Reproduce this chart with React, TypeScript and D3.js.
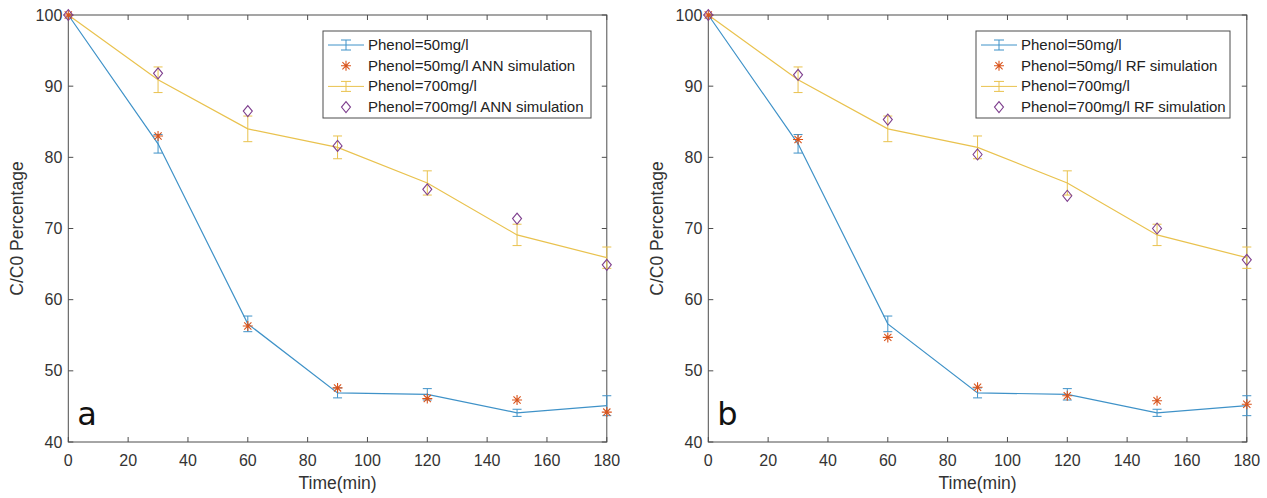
import React from "react";
import * as d3 from "d3";

// time points (min)
const times = [0, 30, 60, 90, 120, 150, 180];

// experimental means and error bar half-widths
const phenol50 = [100, 81.9, 56.6, 46.9, 46.7, 44.1, 45.1];
const phenol50Err = [0, 1.3, 1.1, 0.7, 0.8, 0.5, 1.4];
const phenol700 = [100, 90.9, 84.0, 81.4, 76.4, 69.1, 65.9];
const phenol700Err = [0, 1.8, 1.8, 1.6, 1.7, 1.5, 1.5];

// panel a: ANN simulation
const ann50 = [100, 83.0, 56.3, 47.6, 46.1, 45.9, 44.2];
const ann700 = [100, 91.8, 86.5, 81.6, 75.5, 71.4, 64.9];

// panel b: RF simulation
const rf50 = [100, 82.5, 54.7, 47.7, 46.5, 45.8, 45.3];
const rf700 = [100, 91.6, 85.3, 80.4, 74.6, 70.0, 65.6];

const xTicks = [0, 20, 40, 60, 80, 100, 120, 140, 160, 180];
const yTicks = [40, 50, 60, 70, 80, 90, 100];

const BLUE = "#3f92c8";
const YELLOW = "#e9c24e";
const ORANGE = "#d9541c";
const PURPLE = "#7e3f8e";
const AXIS = "#4d4d4d";
const FONT = "'Liberation Sans', Arial, sans-serif";

const starPath = (r: number) => {
  const d = r * 0.72;
  return `M0,${-r}V${r}M${-r},0H${r}M${-d},${-d}L${d},${d}M${-d},${d}L${d},${-d}`;
};
const diamondPath = (w: number, h: number) => `M0,${-h}L${w},0L0,${h}L${-w},0Z`;

type PanelProps = {
  left: number;
  letter: string;
  model: string;
  sim50: number[];
  sim700: number[];
  legendX: number;
  legendW: number;
};

const Panel = ({ left, letter, model, sim50, sim700, legendX, legendW }: PanelProps) => {
  const x = d3.scaleLinear().domain([0, 180]).range([left, left + 538.5]);
  const y = d3.scaleLinear().domain([40, 100]).range([442, 15]);
  const [x0, x1] = x.range();
  const [yb, yt] = y.range();
  const line = d3
    .line<number>()
    .x((_, i) => x(times[i]))
    .y((d) => y(d));

  const errorBars = (vals: number[], errs: number[], color: string) =>
    vals.map((v, i) =>
      errs[i] > 0 ? (
        <g key={i} stroke={color} strokeWidth={1}>
          <line x1={x(times[i])} x2={x(times[i])} y1={y(v - errs[i])} y2={y(v + errs[i])} />
          <line x1={x(times[i]) - 4.5} x2={x(times[i]) + 4.5} y1={y(v - errs[i])} y2={y(v - errs[i])} />
          <line x1={x(times[i]) - 4.5} x2={x(times[i]) + 4.5} y1={y(v + errs[i])} y2={y(v + errs[i])} />
        </g>
      ) : null
    );

  const legendItems = [
    `Phenol=50mg/l`,
    `Phenol=50mg/l ${model} simulation`,
    `Phenol=700mg/l`,
    `Phenol=700mg/l ${model} simulation`,
  ];
  const ly = 31;
  const rowY = (i: number) => ly + 14 + i * 20.7;
  const iconX = legendX + 23;

  return (
    <g fontFamily={FONT}>
      {/* axes box */}
      <rect x={x0} y={yt} width={x1 - x0} height={yb - yt} fill="none" stroke={AXIS} strokeWidth={1} />
      {xTicks.map((t) => (
        <g key={"x" + t}>
          <line x1={x(t)} x2={x(t)} y1={yb} y2={yb - 5} stroke={AXIS} />
          <line x1={x(t)} x2={x(t)} y1={yt} y2={yt + 5} stroke={AXIS} />
          <text x={x(t)} y={466} textAnchor="middle" fontSize={16} fill="#333">
            {t}
          </text>
        </g>
      ))}
      {yTicks.map((t) => (
        <g key={"y" + t}>
          <line x1={x0} x2={x0 + 5} y1={y(t)} y2={y(t)} stroke={AXIS} />
          <line x1={x1} x2={x1 - 5} y1={y(t)} y2={y(t)} stroke={AXIS} />
          <text x={x0 - 6} y={y(t) + 5.5} textAnchor="end" fontSize={16} fill="#333">
            {t}
          </text>
        </g>
      ))}
      <text x={(x0 + x1) / 2} y={489} textAnchor="middle" fontSize={17.5} fill="#333">
        Time(min)
      </text>
      <text
        transform={`translate(${left - 45},${(yt + yb) / 2}) rotate(-90)`}
        textAnchor="middle"
        fontSize={17.5}
        fill="#333"
      >
        C/C0 Percentage
      </text>
      <text x={x0 + 9} y={425} fontSize={32} fontFamily="'DejaVu Sans', sans-serif" fill="#111">
        {letter}
      </text>

      {/* series */}
      <path d={line(phenol700) || ""} fill="none" stroke={YELLOW} strokeWidth={1.2} />
      {errorBars(phenol700, phenol700Err, YELLOW)}
      <path d={line(phenol50) || ""} fill="none" stroke={BLUE} strokeWidth={1.2} />
      {errorBars(phenol50, phenol50Err, BLUE)}
      {sim50.map((v, i) => (
        <path key={"s" + i} d={starPath(5)} transform={`translate(${x(times[i])},${y(v)})`} stroke={ORANGE} strokeWidth={1.1} fill="none" />
      ))}
      {sim700.map((v, i) => (
        <path key={"d" + i} d={diamondPath(4.5, 5.5)} transform={`translate(${x(times[i])},${y(v)})`} stroke={PURPLE} strokeWidth={1.1} fill="none" />
      ))}

      {/* legend */}
      <rect x={legendX} y={ly} width={legendW} height={87} fill="#fff" stroke={AXIS} strokeWidth={1} />
      {[0, 2].map((i) => {
        const c = i === 0 ? BLUE : YELLOW;
        const cy = rowY(i);
        return (
          <g key={"li" + i} stroke={c} strokeWidth={1}>
            <line x1={iconX - 18} x2={iconX + 18} y1={cy} y2={cy} />
            <line x1={iconX} x2={iconX} y1={cy - 5} y2={cy + 5} />
            <line x1={iconX - 5} x2={iconX + 5} y1={cy - 5} y2={cy - 5} />
            <line x1={iconX - 5} x2={iconX + 5} y1={cy + 5} y2={cy + 5} />
          </g>
        );
      })}
      <path d={starPath(5)} transform={`translate(${iconX},${rowY(1)})`} stroke={ORANGE} strokeWidth={1.1} fill="none" />
      <path d={diamondPath(4.5, 5.5)} transform={`translate(${iconX},${rowY(3)})`} stroke={PURPLE} strokeWidth={1.1} fill="none" />
      {legendItems.map((s, i) => (
        <text key={"lt" + i} x={legendX + 45} y={rowY(i) + 5} fontSize={15} fill="#222">
          {s}
        </text>
      ))}
    </g>
  );
};

export default function App() {
  return (
    <svg width={1267} height={498} style={{ position: "absolute", left: 0, top: 0, background: "#fff" }}>
      <Panel left={68.3} letter="a" model="ANN" sim50={ann50} sim700={ann700} legendX={323} legendW={268} />
      <Panel left={708.3} letter="b" model="RF" sim50={rf50} sim700={rf700} legendX={976} legendW={254} />
    </svg>
  );
}
